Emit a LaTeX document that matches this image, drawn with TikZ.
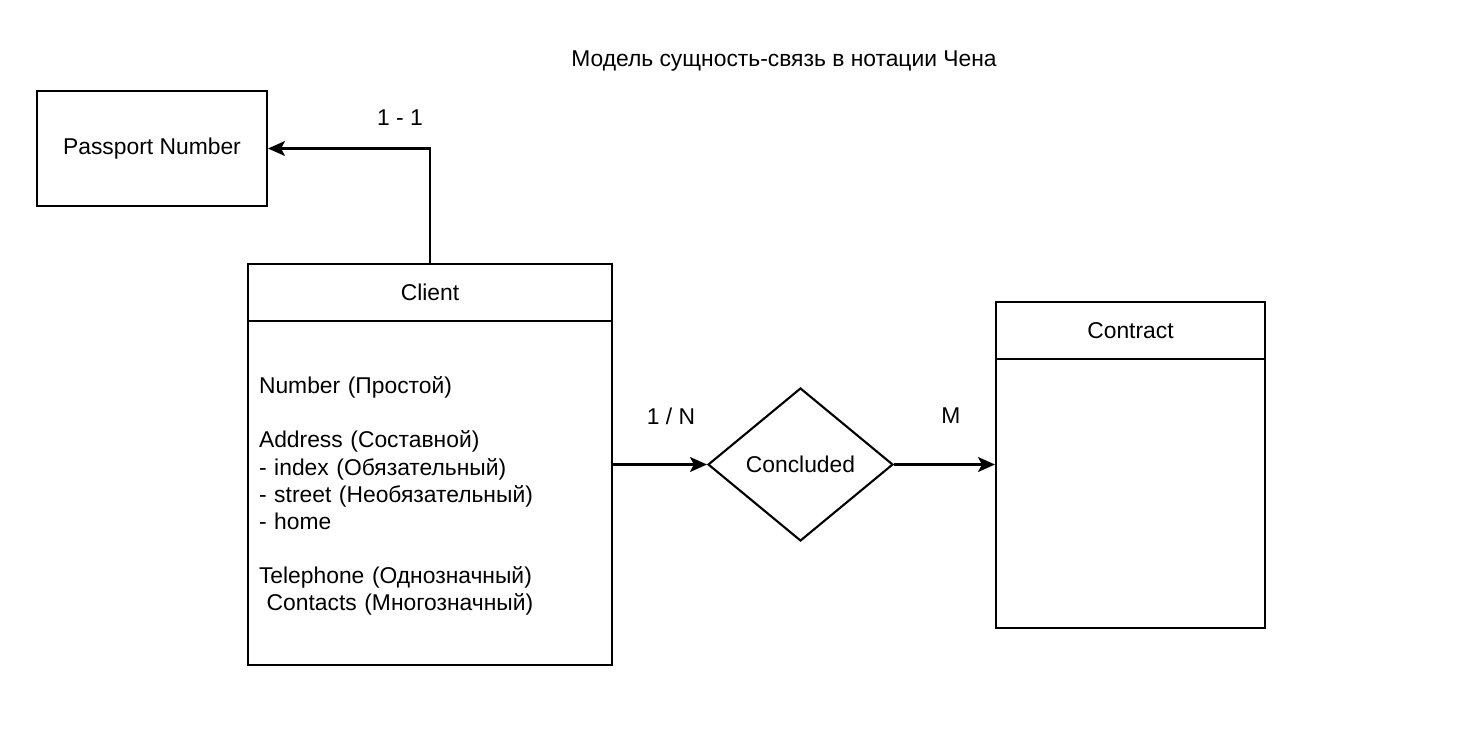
\documentclass[tikz,border=0pt]{standalone}
\usepackage{fontspec}
\setmainfont{Liberation Sans}
\usetikzlibrary{shapes.geometric,arrows.meta}

\begin{document}
\begin{tikzpicture}[x=0.02cm, y=-0.02cm, line width=1.2pt,
        font=\fontsize{13}{15.4}\selectfont,
        box/.style={draw, rectangle, inner sep=0pt},
        relation/.style={draw, diamond, inner sep=0pt, aspect=1.21, minimum width=3.7cm, minimum height=3.06cm},
        link/.style={-{Stealth[length=0.34cm, width=0.3cm, inset=0.08cm]}}]
        \useasboundingbox (0,0) rectangle (1458,750);
        \node (title) at (784,61) {Модель сущность-связь в нотации Чена};
        \node[box, minimum width=4.6cm, minimum height=2.3cm] (passport) at (152,148.5) {Passport Number};
        \node[box, minimum width=7.28cm, minimum height=1.14cm] (clienthead) at (430,292.5) {Client};
        \node[box, minimum width=7.28cm, minimum height=6.88cm, text width=6.84cm, inner xsep=0.22cm, align=left] (clientbody) at (430,493) {\rule{0pt}{13pt}Number (Простой)\\[15.4pt]
                Address (Составной)\\
                - index (Обязательный)\\
                - street (Необязательный)\\
                - home\\[15.4pt]
                Telephone (Однозначный)\\
                \mbox{}\ Contacts (Многозначный)};
        \node[box, minimum width=5.38cm, minimum height=1.14cm] (contracthead) at (1130.5,330.5) {Contract};
        \node[box, minimum width=5.38cm, minimum height=5.38cm] (contractbody) at (1130.5,493.5) {};
        \node[relation] (concluded) at (800.5,464.5) {Concluded};
        \node (oneone) at (400,118) {1 - 1};
        \node (onen) at (671,416) {1 / N};
        \node (many) at (951,416) {M};
        \draw[link] (clienthead.north) |- (passport.east);
        \draw[link] (clientbody.east |- concluded) -- (concluded.west);
        \draw[link] (concluded.east) -- (concluded -| contractbody.west);
\end{tikzpicture}
\end{document}
